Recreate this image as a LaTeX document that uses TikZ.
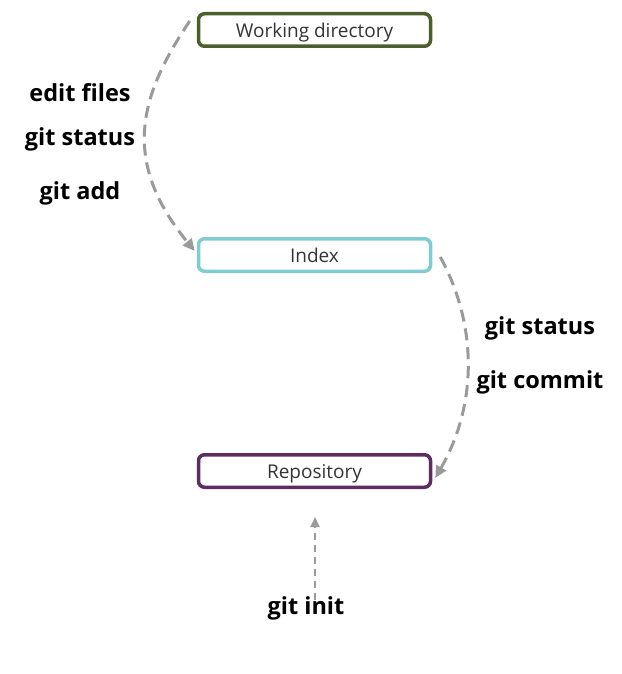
\documentclass[tikz,border=0pt]{standalone}
\usepackage{fontspec}
\setmainfont{Open Sans}
\usetikzlibrary{arrows.meta}
\definecolor{wdc}{HTML}{4B5E2B}
\definecolor{idxc}{HTML}{7FCCD2}
\definecolor{repc}{HTML}{5F2B63}
\definecolor{arrc}{HTML}{9A9A9A}
\begin{document}
\begin{tikzpicture}[x=1pt,y=-1pt,
  box/.style={draw,line width=3.5pt,rounded corners=6pt,minimum width=232pt,minimum height=32.5pt,inner sep=0pt,
    text height=15.5pt,text depth=0pt,
    font=\fontsize{19}{22}\selectfont,text=black!80},
  lbl/.style={font=\bfseries\fontsize{23.5}{27}\selectfont,text=black,inner sep=0pt,anchor=base},
  arr/.style={draw=arrc,line width=3pt,dash pattern=on 12pt off 7pt,
    -{Triangle[length=12pt,width=11pt,fill=arrc]}},
  arrs/.style={draw=arrc,line width=2.2pt,dash pattern=on 7pt off 5pt,
    -{Triangle[length=10pt,width=9pt,fill=arrc]}}]
\useasboundingbox (0,0) rectangle (621,674);
\node[box,draw=wdc] (wd) at (314.5,30) {Working directory};
\node[box,draw=idxc] (idx) at (314.5,255) {Index};
\node[box,draw=repc] (rep) at (314.5,471) {Repository};
\node[lbl] (l1) at (80,101.5) {edit files};
\node[lbl] (l2) at (80,145) {git status};
\node[lbl] (l3) at (80,199) {git add};
\node[lbl] (l4) at (540,334) {git status};
\node[lbl] (l5) at (540,388) {git commit};
\node[lbl] (l6) at (306,614) {git init};
\coordinate (tip) at (315,517);
\draw[arr] ([xshift=-7pt,yshift=9pt]wd.west) .. controls (140,95) and (120,160) .. ([xshift=-2pt,yshift=4pt]idx.west);
\draw[arr] ([xshift=8pt,yshift=-2pt]idx.east) .. controls (475,320) and (480,400) .. ([xshift=3pt,yshift=-7pt]rep.east);
\draw[arrs] ([xshift=9pt,yshift=-4pt]l6.north) -- (tip);
\end{tikzpicture}
\end{document}
